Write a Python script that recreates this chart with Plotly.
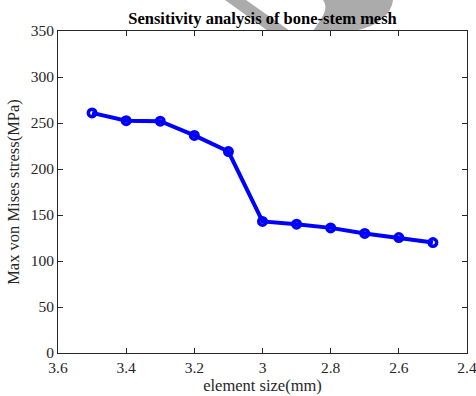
import plotly.graph_objects as go

element_size = [3.5, 3.4, 3.3, 3.2, 3.1, 3.0, 2.9, 2.8, 2.7, 2.6, 2.5]
max_stress = [261, 252.5, 252, 236.5, 219, 143, 140, 136, 130, 125.5, 120]
x_ticks = [3.6, 3.4, 3.2, 3.0, 2.8, 2.6, 2.4]
x_tick_labels = ["3.6", "3.4", "3.2", "3", "2.8", "2.6", "2.4"]
y_ticks = [0, 50, 100, 150, 200, 250, 300, 350]

W, H = 476, 396
L, R, T, B = 58, 9, 31, 43
pw, ph = W - L - R, H - T - B

def px(x, y):
    return (x - L) / pw, (H - B - y) / ph

band = [(225, 0), (246, 0), (290, 31), (268, 31)]
band_path = "M " + " L ".join(f"{px(x,y)[0]:.4f},{px(x,y)[1]:.4f}" for x, y in band) + " Z"

p = {k: px(*v) for k, v in {
    "a": (323, 0), "b": (393, 0), "c1": (391, 16), "c2": (376, 26), "d": (358, 30),
    "e": (313, 31), "f1": (320, 20), "f2": (330, 10)}.items()}
blob_path = (f"M {p['a'][0]:.4f},{p['a'][1]:.4f} L {p['b'][0]:.4f},{p['b'][1]:.4f} "
             f"C {p['c1'][0]:.4f},{p['c1'][1]:.4f} {p['c2'][0]:.4f},{p['c2'][1]:.4f} {p['d'][0]:.4f},{p['d'][1]:.4f} "
             f"L {p['e'][0]:.4f},{p['e'][1]:.4f} "
             f"C {p['f1'][0]:.4f},{p['f1'][1]:.4f} {p['f2'][0]:.4f},{p['f2'][1]:.4f} {p['a'][0]:.4f},{p['a'][1]:.4f} Z")

fig = go.Figure()
fig.add_trace(go.Scatter(
    x=element_size, y=max_stress, mode="lines+markers",
    line=dict(color="#0000ff", width=4),
    marker=dict(symbol="circle-open", size=7.5, color="#0000ff", line=dict(width=3.5, color="#0000ff")),
    showlegend=False,
))

font = "Liberation Serif"
axis_common = dict(
    showline=True, linecolor="#262626", linewidth=1, mirror="ticks",
    ticks="inside", ticklen=5, tickcolor="#262626", showgrid=False, zeroline=False,
    automargin=False, ticklabeloverflow="allow",
    tickfont=dict(family=font, size=15.5, color="#262626"),
)
fig.update_xaxes(range=[3.6, 2.4], tickvals=x_ticks, ticktext=x_tick_labels,
                 title=dict(text="element size(mm)", font=dict(family=font, size=16.5, color="#262626"), standoff=2),
                 **axis_common)
fig.update_yaxes(range=[0, 350], tickvals=y_ticks,
                 title=dict(text="Max von Mises stress(MPa)", font=dict(family=font, size=16.5, color="#262626"), standoff=6),
                 **axis_common)

fig.update_layout(
    width=W, height=H, margin=dict(l=L, r=R, t=T, b=B),
    paper_bgcolor="white", plot_bgcolor="white",
    font=dict(family=font),
    title=dict(text="<b>Sensitivity analysis of bone-stem mesh</b>", x=0.5, xref="paper", xanchor="center",
               y=1 - 18 / H, yanchor="middle", font=dict(family=font, size=16.5, color="black")),
    shapes=[
        dict(type="path", path=band_path, xref="paper", yref="paper", fillcolor="#ababab",
             line=dict(width=0), layer="below"),
        dict(type="path", path=blob_path, xref="paper", yref="paper", fillcolor="#ababab",
             line=dict(width=0), layer="below"),
    ],
)
fig.write_html("out.html")
